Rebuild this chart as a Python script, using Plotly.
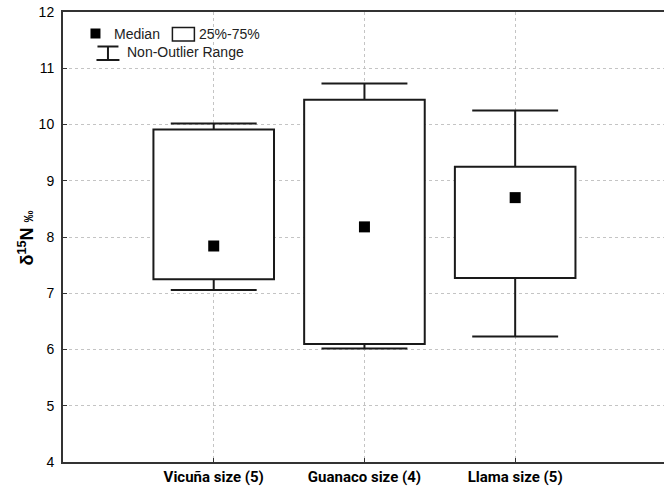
import plotly.graph_objects as go

# Box summaries for δ15N by size class
categories = ["Vicuña size (5)", "Guanaco size (4)", "Llama size (5)"]
medians = [7.84, 8.18, 8.70]
q1 = [7.25, 6.10, 7.27]
q3 = [9.91, 10.44, 9.25]
whisker_low = [7.06, 6.02, 6.23]
whisker_high = [10.02, 10.73, 10.25]

y_ticks = [4, 5, 6, 7, 8, 9, 10, 11, 12]

W, H = 664, 494
L, T, B, R = 62.5, 12, 32, 0
plot_w, plot_h = W - L - R, H - T - B

pos = list(range(1, len(categories) + 1))
box_w = 0.80
cap_half = 0.285
ink = "#1a1a1a"

fig = go.Figure()

# 25%-75% boxes
fig.add_trace(go.Bar(
    x=pos, y=[b - a for a, b in zip(q1, q3)], base=q1, width=box_w,
    marker=dict(color="white", line=dict(color=ink, width=2)),
    showlegend=False, hoverinfo="skip",
))

# non-outlier range whiskers with caps
wx, wy = [], []
for p, lo, a, b, hi in zip(pos, whisker_low, q1, q3, whisker_high):
    wx += [p, p, None, p, p, None, p - cap_half, p + cap_half, None, p - cap_half, p + cap_half, None]
    wy += [b, hi, None, lo, a, None, hi, hi, None, lo, lo, None]
fig.add_trace(go.Scatter(
    x=wx, y=wy, mode="lines", line=dict(color=ink, width=2),
    showlegend=False, hoverinfo="skip",
))

# medians
fig.add_trace(go.Scatter(
    x=pos, y=medians, mode="markers",
    marker=dict(symbol="square", size=11, color="black"),
    showlegend=False,
))


def px_x(px):
    return (px - L) / plot_w


def px_y(py):
    return (H - B - py) / plot_h


shapes = []
# legend: median square
shapes.append(dict(type="rect", xref="paper", yref="paper",
                   x0=px_x(90), x1=px_x(100), y0=px_y(38.5), y1=px_y(28.5),
                   fillcolor="black", line=dict(width=0)))
# legend: box outline
shapes.append(dict(type="rect", xref="paper", yref="paper",
                   x0=px_x(172), x1=px_x(194), y0=px_y(41), y1=px_y(27.5),
                   fillcolor="white", line=dict(color=ink, width=1.5)))
# legend: whisker glyph
for x0, x1, y0, y1 in [(97, 118, 46.5, 46.5), (96, 119, 60, 60), (107.5, 107.5, 46.5, 60)]:
    shapes.append(dict(type="line", xref="paper", yref="paper",
                       x0=px_x(x0), x1=px_x(x1), y0=px_y(y0), y1=px_y(y1),
                       line=dict(color=ink, width=2)))

legend_font = dict(family="Liberation Sans, Arial, sans-serif", size=14, color="#222")
annotations = [
    dict(text="Median", x=px_x(112), y=px_y(33.5), xref="paper", yref="paper",
         xanchor="left", yanchor="middle", showarrow=False, font=legend_font),
    dict(text="25%-75%", x=px_x(197), y=px_y(33.5), xref="paper", yref="paper",
         xanchor="left", yanchor="middle", showarrow=False, font=legend_font),
    dict(text="Non-Outlier Range", x=px_x(125), y=px_y(52.5), xref="paper", yref="paper",
         xanchor="left", yanchor="middle", showarrow=False, font=legend_font),
    dict(text="δ<sup>15</sup>N <span style='font-size:12px'>‰</span>",
         x=px_x(25), y=px_y(238), xref="paper", yref="paper", textangle=-90,
         xanchor="center", yanchor="middle", showarrow=False,
         font=dict(family="Liberation Sans, Arial, sans-serif", size=18, color="black", weight="bold")),
]

grid = dict(showgrid=True, gridcolor="#c4c4c4", griddash="dot", gridwidth=1)

fig.update_layout(
    width=W, height=H,
    margin=dict(l=L, r=R, t=T, b=B, pad=0),
    paper_bgcolor="white", plot_bgcolor="white",
    showlegend=False,
    shapes=shapes, annotations=annotations,
    xaxis=dict(
        range=[0, plot_w / 150.85], tickvals=pos, ticktext=categories,
        ticks="inside", ticklen=4, tickcolor="#333", zeroline=False,
        showline=True, linecolor="#333", linewidth=2, mirror=True,
        tickfont=dict(family="Roboto, Liberation Sans, sans-serif", size=15, color="black", weight="bold"),
        **grid,
    ),
    yaxis=dict(
        range=[4, 12], tickvals=y_ticks, ticks="inside", ticklen=4, tickcolor="#333",
        showline=True, linecolor="#333", linewidth=2, mirror=False, zeroline=False,
        tickfont=dict(family="Liberation Sans, Arial, sans-serif", size=14, color="black"),
        ticklabelstandoff=4,
        **grid,
    ),
)

fig.write_html("out.html")
